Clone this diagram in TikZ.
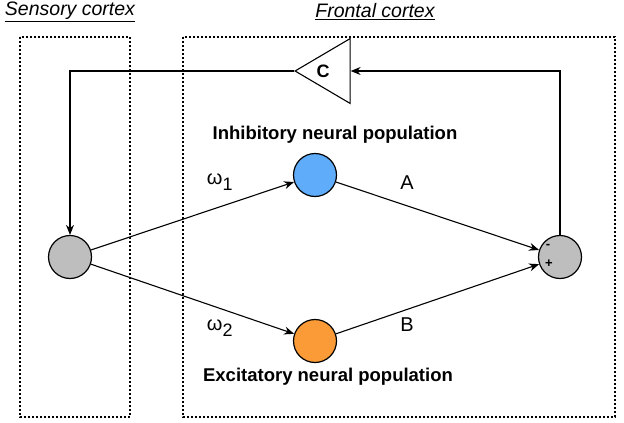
\documentclass[tikz,border=0pt]{standalone}
\usepackage{fontspec}
\setmainfont{Liberation Sans}
\usetikzlibrary{arrows.meta,shapes.geometric}
\begin{document}
\begin{tikzpicture}[x=1pt,y=-1pt,
  region/.style={draw,line width=1.2pt,dash pattern=on 1.8pt off 2.2pt},
  neuron/.style={circle,draw,line width=1.2pt,minimum size=43pt,inner sep=0pt},
  conn/.style={line width=1.1pt,-{Stealth[length=10pt,width=8pt]}},
  title/.style={font=\fontsize{19.5}{22}\selectfont\itshape},
  pop/.style={font=\fontsize{18.5}{20}\selectfont\bfseries},
  lbl/.style={font=\fontsize{20}{22}\selectfont}]
\useasboundingbox (0,0) rectangle (624,423);
\draw[region] (20,37) rectangle (130,417);
\draw[region] (183,37) rectangle (615,417);
\node[title] (st) at (70,12) {\underline{Sensory cortex}};
\node[title] (ft) at (375,12) {\underline{Frontal cortex}};
\node[neuron,fill={rgb,255:red,190;green,190;blue,190}] (s) at (70,257) {};
\node[neuron,fill={rgb,255:red,95;green,172;blue,250}] (inh) at (315,175) {};
\node[neuron,fill={rgb,255:red,250;green,155;blue,55}] (exc) at (315,341) {};
\node[neuron,fill={rgb,255:red,190;green,190;blue,190}] (sum) at (560,257) {};
\node[font=\bfseries\fontsize{13}{13}\selectfont] (mn) at (548,246) {-};
\node[font=\bfseries\fontsize{13}{13}\selectfont] (pl) at (549,264) {+};
\node[draw,line width=1.1pt,isosceles triangle,shape border rotate=180,isosceles triangle apex angle=61,minimum height=55pt,inner sep=0pt,anchor=apex] (c) at (294,71) {};
\node[font=\bfseries\fontsize{18}{18}\selectfont] (cl) at (323,71) {C};
\coordinate (tr) at (560,71);
\coordinate (tl) at (70,71);
\draw[conn] (s) -- (inh);
\draw[conn] (s) -- (exc);
\draw[conn] (inh) -- (sum);
\draw[conn] (exc) -- (sum);
\draw[conn] (sum.north) -- (tr) -- (c.east);
\draw[conn] (c.apex) -- (tl) -- (s.north);
\node[pop] (il) at (335,135) {Inhibitory neural population};
\node[pop] (el) at (328,377) {Excitatory neural population};
\node[lbl] (w1) at (220,182) {ω\textsubscript{\fontsize{18}{18}\selectfont 1}};
\node[lbl] (w2) at (220,328) {ω\textsubscript{\fontsize{18}{18}\selectfont 2}};
\node[lbl] (a) at (407,183) {A};
\node[lbl] (b) at (407,325) {B};
\end{tikzpicture}
\end{document}
